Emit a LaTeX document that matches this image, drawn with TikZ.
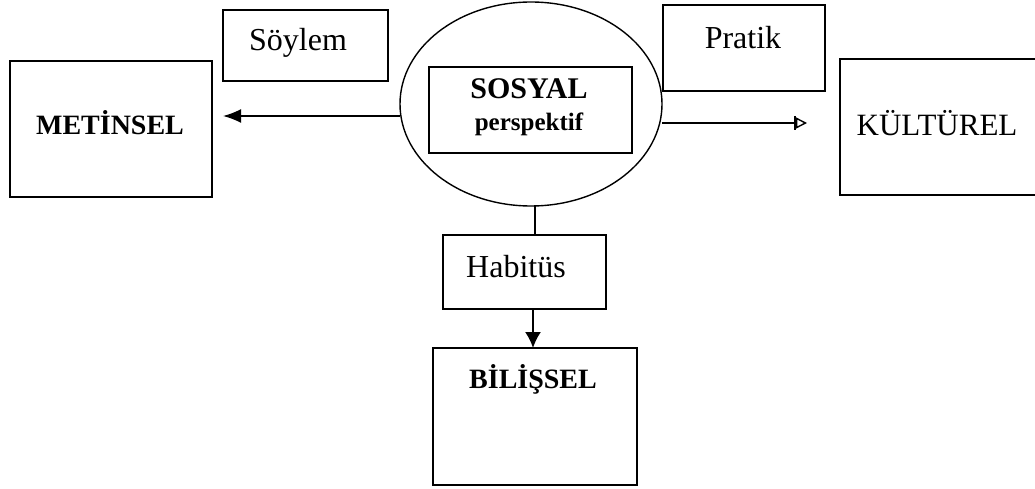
\documentclass[tikz,border=0pt]{standalone}
\usepackage{fontspec}
\setmainfont{Liberation Serif}
\usetikzlibrary{arrows.meta,shapes.geometric}
\begin{document}
\begin{tikzpicture}[x=1pt,y=-1pt,
  box/.style={draw,line width=1.8pt,inner sep=0pt},
  conn/.style={line width=1.8pt},
  reg/.style={font=\fontsize{32}{36}\selectfont},
  bld/.style={font=\fontsize{28}{32}\selectfont\bfseries}]
\useasboundingbox (0,0) rectangle (1035,489);
\begin{scope}
\clip (0,0) rectangle (1035,489);
% boxes
\draw[box] (10,61) rectangle (212,197);
\node[bld] (met) at (110,123) {METİNSEL};
\draw[box] (223,10) rectangle (388,81);
\node[reg] (soy) at (298,43) {Söylem};
\node[draw,ellipse,line width=1.4pt,minimum width=262pt,minimum height=204pt] (ell) at (531,104) {};
\draw[box] (429,67) rectangle (632,153);
\node[font=\fontsize{30}{34}\selectfont\bfseries] (sos) at (529,89) {SOSYAL};
\node[font=\fontsize{25}{28}\selectfont\bfseries] (per) at (529,124) {perspektif};
\draw[box] (663,5) rectangle (825,91);
\node[reg] (pra) at (743,38) {Pratik};
\draw[box] (840,59) rectangle (1045,195);
\node[font=\fontsize{31}{34}\selectfont] (kul) at (937,123) {KÜLTÜREL};
\draw[box] (443,235) rectangle (606,309);
\node[reg] (hab) at (516,267) {Habitüs};
\draw[box] (433,348) rectangle (637,485);
\node[bld] (bil) at (533,379) {BİLİŞSEL};
% connectors
\coordinate (lt) at (223,116);
\coordinate (ls) at (400,116);
\draw[conn,-{Latex[length=18pt,width=14pt]}] (ls) -- (lt);
\coordinate (rs) at (662,123);
\coordinate (rt) at (807,123);
\draw[line width=1.4pt,-{Bar[width=14pt,line width=2pt] Triangle[open,length=11pt,width=11pt,line width=1.4pt]}] (rs) -- (rt);
\coordinate (stemtop) at (535,205);
\coordinate (stembot) at (535,235);
\draw[conn] (stemtop) -- (stembot);
\coordinate (dtop) at (533,309);
\coordinate (dbot) at (533,348);
\draw[conn,-{Latex[length=16pt,width=16pt]}] (dtop) -- (dbot);
\end{scope}
\end{tikzpicture}
\end{document}
